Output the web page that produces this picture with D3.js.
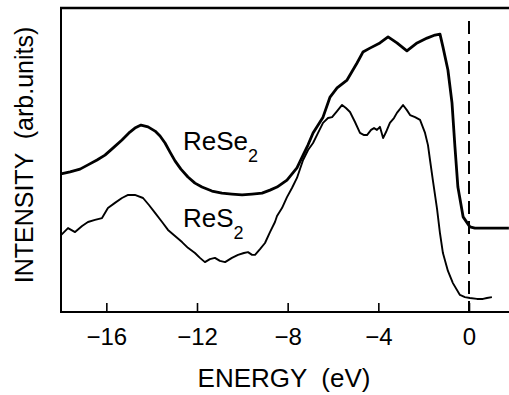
<!DOCTYPE html>
<html>
<head>
<meta charset="utf-8">
<script src="https://cdn.jsdelivr.net/npm/d3@7/dist/d3.min.js"></script>
<style>
  html, body { margin: 0; padding: 0; background: #fff; }
  svg { display: block; }
  text { font-family: "Liberation Sans", Arial, Helvetica, sans-serif; fill: #000; }
</style>
</head>
<body>
<svg id="chart" width="509" height="395"></svg>
<script>
// Valence-band photoemission spectra, energy relative to E_F (eV)
const reSe2Energy = [-18.00,-17.60,-17.16,-16.81,-16.41,-16.06,-15.71,-15.31,-14.96,-14.74,-14.47,-14.16,-13.85,-13.63,-13.41,-13.19,-12.97,-12.71,-12.40,-12.09,-11.78,-11.34,-10.90,-10.46,-10.01,-9.57,-9.13,-8.78,-8.47,-8.03,-7.59,-7.32,-7.10,-6.88,-6.44,-6.13,-5.82,-5.38,-4.94,-4.68,-4.37,-3.93,-3.57,-3.18,-2.74,-2.29,-1.85,-1.50,-1.28,-1.15,-0.93,-0.75,-0.62,-0.49,-0.26,0.04,0.26,0.93,1.76];
const reSe2Intensity = [45.4,46.1,47.0,48.4,50.0,51.6,53.9,56.6,59.2,60.5,61.5,60.9,59.5,57.9,55.6,52.6,49.7,47.0,44.4,42.4,41.1,39.8,39.1,38.8,38.5,38.8,39.1,40.1,41.1,43.4,47.4,51.6,55.0,58.9,64.1,70.7,73.7,76.3,81.9,85.5,86.8,88.5,90.5,88.5,85.9,88.5,90.1,91.1,91.4,87.2,79.6,68.8,54.3,41.1,31.3,28.0,27.6,27.6,27.6];

const reS2Energy = [-18.00,-17.69,-17.38,-17.07,-16.81,-16.50,-16.19,-15.93,-15.62,-15.31,-15.04,-14.74,-14.38,-14.12,-13.85,-13.54,-13.28,-12.97,-12.66,-12.40,-12.09,-11.87,-11.65,-11.43,-11.21,-10.99,-10.76,-10.46,-10.19,-9.93,-9.75,-9.57,-9.44,-9.22,-9.00,-8.78,-8.56,-8.47,-8.25,-8.03,-7.81,-7.59,-7.32,-7.10,-6.88,-6.66,-6.44,-6.22,-6.04,-5.82,-5.60,-5.43,-5.25,-5.03,-4.81,-4.63,-4.50,-4.32,-4.19,-4.06,-3.93,-3.79,-3.66,-3.49,-3.31,-3.18,-3.04,-2.91,-2.74,-2.60,-2.38,-2.16,-1.94,-1.81,-1.72,-1.59,-1.41,-1.28,-1.15,-0.93,-0.71,-0.40,-0.18,0.04,0.35,0.62,0.79,1.01];
const reS2Intensity = [25.3,27.6,26.3,28.3,29.6,30.3,30.9,34.2,35.9,37.5,38.5,38.5,37.5,35.2,32.6,29.6,27.0,25.0,23.0,21.1,19.4,17.8,16.4,17.4,17.8,16.8,16.4,17.8,18.8,19.4,19.7,18.8,18.8,20.7,22.7,26.3,29.6,31.6,34.2,37.8,40.8,44.1,50.0,53.3,55.6,58.9,62.2,63.8,64.1,66.1,68.1,67.1,65.8,62.5,58.9,58.2,58.2,59.9,60.5,59.9,60.9,57.2,59.2,62.2,63.8,65.5,66.8,68.1,66.4,64.8,64.1,63.2,58.9,54.9,50.0,43.1,33.9,25.9,19.4,13.5,9.5,5.6,4.9,4.6,4.3,4.3,4.6,4.9];

const xTicks = [-16, -12, -8, -4, 0];
const fermiEnergy = 0;

(function () {
  const svg = d3.select("#chart");
  const mLeft = 61, mTop = 8, mBottom = 312, mRight = 512;

  const x = d3.scaleLinear().domain([-18, 0]).range([mLeft, 469]);
  const y = d3.scaleLinear().domain([0, 100]).range([mBottom, mTop]);

  // frame: left and top edges
  svg.append("line").attr("x1", mLeft).attr("x2", mLeft).attr("y1", mTop - 1).attr("y2", mBottom + 1)
    .attr("stroke", "#000").attr("stroke-width", 2);
  svg.append("line").attr("x1", mLeft - 1).attr("x2", mRight).attr("y1", mTop).attr("y2", mTop)
    .attr("stroke", "#000").attr("stroke-width", 2.5);

  const xAxis = d3.axisBottom(x)
    .tickValues(xTicks)
    .tickSizeInner(-9)
    .tickSizeOuter(0)
    .tickPadding(16)
    .tickFormat(d => d < 0 ? "\u2212" + Math.abs(d) : String(d));

  const gx = svg.append("g").attr("transform", `translate(0,${mBottom})`).call(xAxis);
  gx.select(".domain").remove();
  gx.selectAll(".tick line").attr("stroke", "#000").attr("stroke-width", 1.6);
  gx.selectAll(".tick text").attr("font-size", 24).attr("font-family", "Liberation Sans, Arial, sans-serif");
  svg.append("line").attr("x1", mLeft - 1).attr("x2", mRight).attr("y1", mBottom).attr("y2", mBottom)
    .attr("stroke", "#000").attr("stroke-width", 2);

  // Fermi level marker
  svg.append("line")
    .attr("x1", x(fermiEnergy)).attr("x2", x(fermiEnergy))
    .attr("y1", 21).attr("y2", mBottom)
    .attr("stroke", "#000").attr("stroke-width", 2)
    .attr("stroke-dasharray", "13,7");

  const line = d3.line().x(d => x(d[0])).y(d => y(d[1]));

  svg.append("path")
    .datum(d3.zip(reSe2Energy, reSe2Intensity))
    .attr("d", line)
    .attr("fill", "none").attr("stroke", "#000").attr("stroke-width", 2.8)
    .attr("stroke-linejoin", "round");

  svg.append("path")
    .datum(d3.zip(reS2Energy, reS2Intensity))
    .attr("d", line)
    .attr("fill", "none").attr("stroke", "#000").attr("stroke-width", 1.9)
    .attr("stroke-linejoin", "round");

  // compound labels with subscripts
  function formula(xPos, yPos, main, sub) {
    const t = svg.append("text").attr("x", xPos).attr("y", yPos).attr("font-size", 26);
    t.append("tspan").text(main);
    t.append("tspan").attr("font-size", 18).attr("dy", 12).text(sub);
  }
  formula(183, 150, "ReSe", "2");
  formula(183, 227, "ReS", "2");

  // axis titles
  svg.append("text")
    .attr("x", 284).attr("y", 387)
    .attr("text-anchor", "middle").attr("font-size", 26)
    .style("white-space", "pre")
    .text("ENERGY  (eV)");

  svg.append("text")
    .attr("transform", "translate(33,155) rotate(-90)")
    .attr("text-anchor", "middle").attr("font-size", 25)
    .style("white-space", "pre")
    .text("INTENSITY  (arb.units)");
})();
</script>
</body>
</html>
